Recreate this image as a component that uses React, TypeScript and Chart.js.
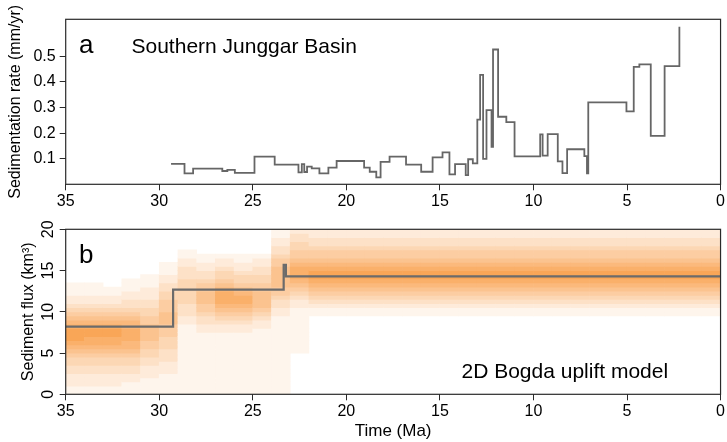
import React, { useEffect, useRef } from 'react';
import { Chart, registerables } from 'chart.js';

Chart.register(...registerables);

const FONT = '"Liberation Sans", Arial, Helvetica, sans-serif';

// ---------- tick labels ----------
const timeTicks = [35, 30, 25, 20, 15, 10, 5, 0];
const rateTicks = [0.1, 0.2, 0.3, 0.4, 0.5];
const fluxTicks = [0, 5, 10, 15, 20];

// ---------- panel a: sedimentation rate (step series, start age of each step) ----------
const rateAges = [
  29.37, 28.65, 28.19, 26.63, 26.36, 25.96, 24.91, 23.83, 22.56, 22.38,
  22.25, 22.1, 21.85, 21.44, 20.96, 20.52, 19.05, 18.75, 18.4, 18.17,
  17.69, 16.81, 16.0, 15.39, 14.86, 14.49, 14.19, 13.62, 13.49, 13.24,
  13.0, 12.85, 12.69, 12.51, 12.24, 12.16, 11.89, 11.45, 11.01, 9.64,
  9.51, 9.24, 8.7, 8.45, 8.2, 7.28, 7.14, 7.07, 5.03, 4.64,
  4.34, 3.73, 2.99, 2.2,
];
const rateValues = [
  0.08, 0.043, 0.061, 0.052, 0.056, 0.045, 0.108, 0.077, 0.047, 0.079,
  0.048, 0.069, 0.062, 0.043, 0.065, 0.091, 0.065, 0.049, 0.027, 0.088,
  0.108, 0.077, 0.049, 0.105, 0.125, 0.039, 0.079, 0.036, 0.098, 0.082,
  0.253, 0.428, 0.099, 0.29, 0.146, 0.527, 0.264, 0.243, 0.109, 0.195,
  0.112, 0.196, 0.09, 0.044, 0.137, 0.11, 0.043, 0.32, 0.285, 0.459,
  0.469, 0.189, 0.462, 0.616,
];

// ---------- panel b: modelled sediment flux ----------
const fluxAges = [35, 29.26, 23.35, 23.23, 0];
const fluxValues = [8.2, 12.7, 15.7, 14.3, 14.3];

// probability shading: one string per 1 Myr column (35-34 Ma first),
// one digit (0-9 intensity) per 0.5 km3 row, from 0 (left) to 20 (right)
const heatColumns = [
  '1122233445678999876543221110000000000000', // 35-34
  '1122233445678899876543221110000000000000', // 34-33
  '1122233445678899876543221100000000000000', // 33-32
  '1112233445677888776543322111000000000000', // 32-31
  '1111222334455666655443322211100000000000', // 31-30
  '1111122233344455566655544332211100000000', // 30-29
  '1111111111111111122333444444333221100000', // 29-28
  '1111111111111112233455666554332211000000', // 28-27
  '1111111111111112234567888765443221000000', // 27-26
  '1111111111111112234567887654432211000000', // 26-25
  '1111111111111111223456666554433221000000', // 25-24
  '1111111111111111111223345566666554332211', // 24-23
  '0000000000111111111112234567888765544332', // 23-22
  '0000000000000000000112345678998765543322', // 22-21
  '0000000000000000000112345678998765543322', // 21-20
  '0000000000000000000112345678998765543322', // 20-19
  '0000000000000000000112345678998765543322', // 19-18
  '0000000000000000000112345678998765543322', // 18-17
  '0000000000000000000112345678998765543322', // 17-16
  '0000000000000000000112345678998765543322', // 16-15
  '0000000000000000000112345678998765543322', // 15-14
  '0000000000000000000112345678998765543322', // 14-13
  '0000000000000000000112345678998765543322', // 13-12
  '0000000000000000000112345678998765543322', // 12-11
  '0000000000000000000112345678998765543322', // 11-10
  '0000000000000000000112345678998765543322', // 10-9
  '0000000000000000000112345678998765543322', // 9-8
  '0000000000000000000112345678998765543322', // 8-7
  '0000000000000000000112345678998765543322', // 7-6
  '0000000000000000000112345678998765543322', // 6-5
  '0000000000000000000112345678998765543322', // 5-4
  '0000000000000000000112345678998765543322', // 4-3
  '0000000000000000000112345678998765543322', // 3-2
  '0000000000000000000112345678998765543322', // 2-1
  '0000000000000000000112345678998765543322', // 1-0
];
const heatStartAge = 35;
const heatColumnWidth = 1;
const heatRowHeight = 0.5;

// ---------- helpers ----------
function levelColor(level: number): string {
  const t = (level / 9) * 0.82;
  const r = Math.round(255 - (255 - 248) * t);
  const g = Math.round(255 - (255 - 146) * t);
  const b = Math.round(255 - (255 - 50) * t);
  return `rgb(${r},${g},${b})`;
}

const framePlugin = {
  id: 'frame',
  afterDatasetsDraw(chart: any) {
    const { ctx, chartArea: a } = chart;
    ctx.save();
    ctx.strokeStyle = '#2a2a2a';
    ctx.lineWidth = 1.2;
    ctx.strokeRect(a.left, a.top, a.right - a.left, a.bottom - a.top);
    ctx.restore();
  },
};

type Label = { text: string; x: number; y: number; size: number };
function textPlugin(items: Label[]) {
  return {
    id: 'panelText',
    afterDraw(chart: any) {
      const ctx = chart.ctx;
      ctx.save();
      ctx.fillStyle = '#000';
      ctx.textAlign = 'left';
      ctx.textBaseline = 'alphabetic';
      for (const t of items) {
        ctx.font = `${t.size}px ${FONT}`;
        ctx.fillText(t.text, t.x, t.y);
      }
      ctx.restore();
    },
  };
}

// vertical (rotated) tick labels for the flux axis, placed through the y scale
const rotatedYTickPlugin = {
  id: 'rotatedYTicks',
  afterDraw(chart: any) {
    const ctx = chart.ctx;
    const y = chart.scales.y;
    ctx.save();
    ctx.fillStyle = '#000';
    ctx.font = `16px ${FONT}`;
    ctx.textAlign = 'center';
    ctx.textBaseline = 'middle';
    for (const v of fluxTicks) {
      const py = y.getPixelForValue(v);
      ctx.save();
      ctx.translate(y.right - 17.5, py);
      ctx.rotate(-Math.PI / 2);
      ctx.fillText(String(v), 0, 0);
      ctx.restore();
    }
    ctx.restore();
  },
};

const PLOT_LEFT = 65.7;
const PLOT_RIGHT_PAD = 2.2;

function timeAxis(height: number, withTitle: boolean) {
  return {
    type: 'linear',
    min: 0,
    max: 35,
    reverse: true,
    offset: false,
    afterBuildTicks: (s: any) => {
      s.ticks = timeTicks.map((v) => ({ value: v }));
    },
    afterFit: (s: any) => {
      s.height = height;
    },
    ticks: {
      autoSkip: false,
      maxRotation: 0,
      minRotation: 0,
      padding: 2,
      color: '#000',
      font: { family: FONT, size: 16 },
      callback: (v: any) => String(v),
    },
    grid: {
      offset: false,
      drawOnChartArea: false,
      drawTicks: true,
      tickLength: 6,
      color: '#2a2a2a',
      tickColor: '#2a2a2a',
      lineWidth: 1,
    },
    border: { display: false },
    title: {
      display: withTitle,
      text: 'Time (Ma)',
      color: '#000',
      font: { family: FONT, size: 17 },
      padding: { top: 1, bottom: 0 },
    },
  };
}

function TopPanel() {
  const ref = useRef<HTMLCanvasElement>(null);
  useEffect(() => {
    const canvas = ref.current!;
    const points = rateAges.map((a, i) => ({ x: a, y: rateValues[i] }));
    const chart = new Chart(canvas, {
      type: 'line',
      data: {
        datasets: [
          {
            data: points,
            stepped: 'before',
            borderColor: '#666666',
            borderWidth: 1.8,
            pointRadius: 0,
            fill: false,
          },
        ],
      },
      options: {
        animation: false,
        responsive: false,
        devicePixelRatio: 1,
        layout: { padding: { top: 19.3, right: PLOT_RIGHT_PAD, left: 0, bottom: 0 } },
        plugins: { legend: { display: false }, tooltip: { enabled: false } },
        scales: {
          x: timeAxis(215 - 184.3, false),
          y: {
            type: 'linear',
            min: 0,
            max: 0.645,
            afterBuildTicks: (s: any) => {
              s.ticks = rateTicks.map((v) => ({ value: v }));
            },
            afterFit: (s: any) => {
              s.width = PLOT_LEFT;
            },
            ticks: {
              padding: 4,
              color: '#000',
              font: { family: FONT, size: 16 },
              callback: (v: any) => Number(v).toFixed(1),
            },
            grid: {
              drawOnChartArea: false,
              drawTicks: true,
              tickLength: 6,
              color: '#2a2a2a',
              tickColor: '#2a2a2a',
            },
            border: { display: false },
            title: {
              display: true,
              text: 'Sedimentation rate (mm/yr)',
              color: '#000',
              font: { family: FONT, size: 16 },
              padding: { top: 6, bottom: 0 },
            },
          },
        },
      },
      plugins: [
        framePlugin,
        textPlugin([
          { text: 'a', x: 79, y: 53, size: 26 },
          { text: 'Southern Junggar Basin', x: 131.5, y: 53.3, size: 21 },
        ]),
      ],
    } as any);
    return () => chart.destroy();
  }, []);
  return (
    <canvas
      ref={ref}
      width={727}
      height={215}
      style={{ position: 'absolute', left: 0, top: 0, width: 727, height: 215 }}
    />
  );
}

function BottomPanel() {
  const ref = useRef<HTMLCanvasElement>(null);
  useEffect(() => {
    const canvas = ref.current!;
    const cells: { x: number; y: [number, number] }[] = [];
    const colors: string[] = [];
    heatColumns.forEach((col, i) => {
      const center = heatStartAge - (i + 0.5) * heatColumnWidth;
      for (let r = 0; r < col.length; r++) {
        const level = Number(col[r]);
        if (!level) continue;
        cells.push({ x: center, y: [r * heatRowHeight, (r + 1) * heatRowHeight] });
        colors.push(levelColor(level));
      }
    });
    const line = fluxAges.map((a, i) => ({ x: a, y: fluxValues[i] }));
    const chart = new Chart(canvas, {
      type: 'bar',
      data: {
        datasets: [
          {
            type: 'line',
            data: line,
            stepped: 'before',
            borderColor: '#6b6b6b',
            borderWidth: 2.2,
            pointRadius: 0,
            fill: false,
            order: 0,
          },
          {
            type: 'bar',
            data: cells,
            backgroundColor: colors,
            borderWidth: 0,
            barPercentage: 1,
            categoryPercentage: 1,
            grouped: false,
            order: 1,
          },
        ],
      },
      options: {
        animation: false,
        responsive: false,
        devicePixelRatio: 1,
        layout: { padding: { top: 229.3 - 215, right: PLOT_RIGHT_PAD, left: 0, bottom: 0 } },
        plugins: { legend: { display: false }, tooltip: { enabled: false } },
        scales: {
          x: timeAxis(442 - 394.3, true),
          y: {
            type: 'linear',
            min: 0,
            max: 20,
            afterBuildTicks: (s: any) => {
              s.ticks = fluxTicks.map((v) => ({ value: v }));
            },
            afterFit: (s: any) => {
              s.width = PLOT_LEFT;
            },
            ticks: { display: false },
            grid: {
              drawOnChartArea: false,
              drawTicks: true,
              tickLength: 6,
              color: '#2a2a2a',
              tickColor: '#2a2a2a',
            },
            border: { display: false },
            title: {
              display: true,
              text: 'Sediment flux (km³)',
              color: '#000',
              font: { family: FONT, size: 16 },
              padding: { top: 19, bottom: 0 },
            },
          },
        },
      },
      plugins: [
        framePlugin,
        rotatedYTickPlugin,
        textPlugin([
          { text: 'b', x: 79, y: 262.7 - 215, size: 26 },
          { text: '2D Bogda uplift model', x: 461.5, y: 378.3 - 215, size: 21 },
        ]),
      ],
    } as any);
    return () => chart.destroy();
  }, []);
  return (
    <canvas
      ref={ref}
      width={727}
      height={227}
      style={{ position: 'absolute', left: 0, top: 215, width: 727, height: 227 }}
    />
  );
}

export default function App() {
  return (
    <div
      style={{
        position: 'fixed',
        left: 0,
        top: 0,
        width: 727,
        height: 442,
        background: '#fff',
        overflow: 'hidden',
      }}
    >
      <TopPanel />
      <BottomPanel />
    </div>
  );
}
